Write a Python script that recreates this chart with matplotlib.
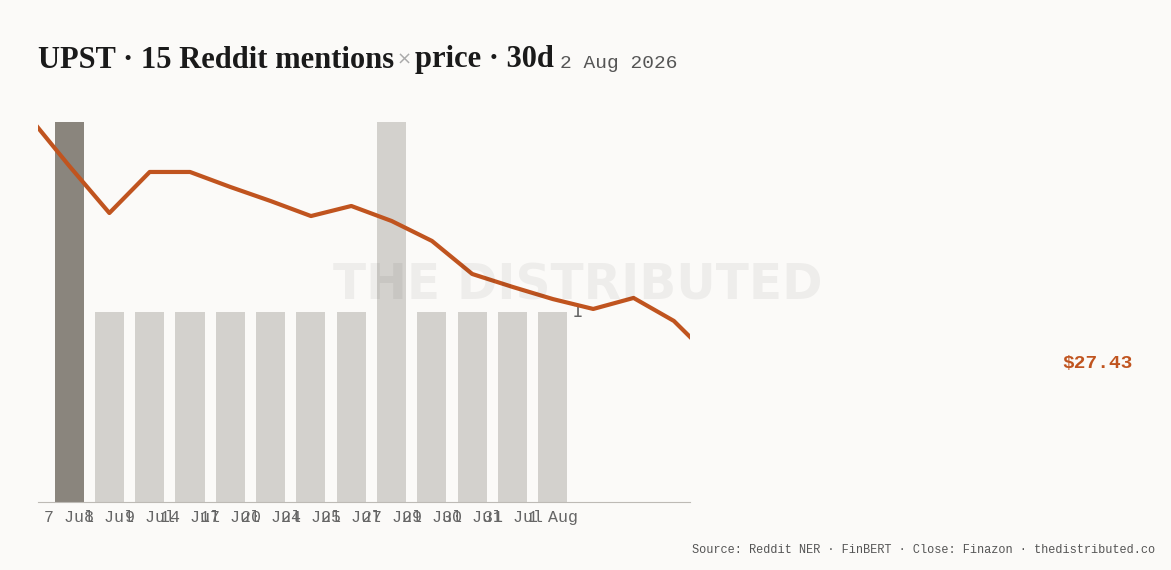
import matplotlib.pyplot as plt

# mention counts per day (bars)
bar_labels = ['7 Jul', '8 Jul', '9 Jul', '14 Jul', '17 Jul', '20 Jul', '24 Jul',
              '25 Jul', '27 Jul', '29 Jul', '30 Jul', '31 Jul', '1 Aug']
mentions = [2, 1, 1, 1, 1, 1, 1, 1, 2, 1, 1, 1, 1]

# daily close, one point per slot (slot -1 .. 16)
price_idx = list(range(-1, 17))
price = [40.3, 37.7, 35.21, 37.37, 37.37, 36.58, 35.84, 35.05, 35.58, 34.79,
         33.74, 32.0, 31.32, 30.68, 30.16, 30.74, 29.53, 27.43]

bg = '#fbfaf8'
orange = '#c0541f'

fig = plt.figure(figsize=(11.71, 5.7), dpi=100, facecolor=bg)
ax = fig.add_axes([38/1171, 68/570, 652/1171, 380/570])
ax.set_facecolor(bg)

x = list(range(len(mentions)))
colors = ['#8a857d'] + ['#d3d1cd'] * (len(mentions) - 1)
ax.bar(x, mentions, width=0.72, color=colors, zorder=2)
ax.set_xlim(-0.77, 15.4)
ax.set_ylim(0, 2)
ax.text(x[-1] + 0.6, mentions[-1], str(mentions[-1]), fontsize=13, color='#666666',
        family='DejaVu Sans Mono', va='center', ha='center')
ax.set_xticks(x)
ax.set_xticklabels(bar_labels, fontsize=12, color='#666666', family='Liberation Mono')
ax.tick_params(axis='x', length=0, pad=6)
ax.set_yticks([])
for s in ['top', 'right', 'left']:
    ax.spines[s].set_visible(False)
ax.spines['bottom'].set_color('#bdbab5')

ax2 = ax.twinx()
ax2.plot(price_idx, price, color=orange, lw=3, zorder=3)
ax2.set_ylim(20, 40)
ax2.set_yticks([])
for s in ax2.spines.values():
    s.set_visible(False)

fig.text(578/1171, 1 - 285/570, 'THE DISTRIBUTED', fontsize=35, color='#000000',
         alpha=0.05, ha='center', va='center', weight='bold')
fig.text(38/1171, 1 - 60/570, 'UPST · 15 Reddit mentions', fontsize=22, weight='bold',
         family='Liberation Serif', va='center', color='#1a1a1a')
fig.text(397/1171, 1 - 60/570, '×', fontsize=13, color='#aaaaaa', va='center')
fig.text(415/1171, 1 - 60/570, 'price · 30d', fontsize=22, weight='bold',
         family='Liberation Serif', va='center', color='#1a1a1a')
fig.text(560/1171, 1 - 63/570, '2 Aug 2026', fontsize=14, color='#555555',
         family='Liberation Mono', va='center')
fig.text(1133/1171, 1 - 363/570, '$27.43', fontsize=14, color=orange,
         family='Liberation Mono', ha='right', va='center', weight='bold')
fig.text(1155/1171, 1 - 550/570, 'Source: Reddit NER · FinBERT · Close: Finazon · thedistributed.co',
         fontsize=8.6, color='#555555', family='Liberation Mono', ha='right', va='center')

fig.savefig('out.png', dpi=100, facecolor=bg)
